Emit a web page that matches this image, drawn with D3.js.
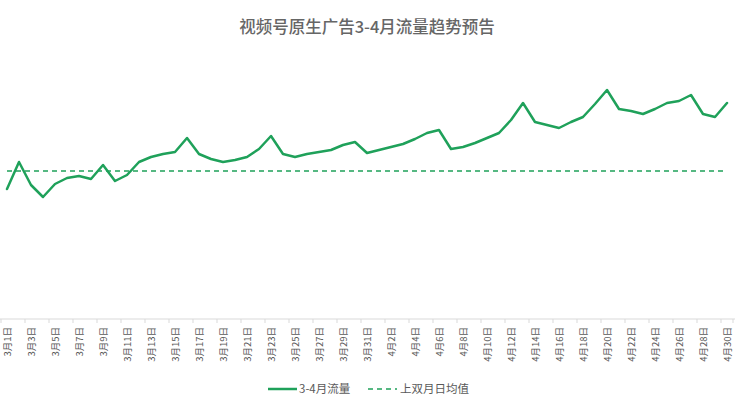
<!DOCTYPE html>
<html>
<head>
<meta charset="utf-8">
<script src="https://cdn.jsdelivr.net/npm/d3@7"></script>
<style>
html,body{margin:0;padding:0;background:#fff;}
svg{display:block;font-family:"Microsoft YaHei","Noto Sans CJK SC","Noto Sans",sans-serif;}
</style>
</head>
<body>
<svg id="chart" width="738" height="399"></svg>
<script>
const title = "视频号原生广告3-4月流量趋势预告";
const seriesName = "3-4月流量";
const avgName = "上双月日均值";
const months = [["3月", 31], ["4月", 30]];
const days = [];
months.forEach(([m, n]) => { for (let d = 1; d <= n; d++) days.push(m + d + "日"); });
const traffic = [130,157,134,122,135,141,143,140,154,138,144,157,162,165,167,181,165,160,157,159,
                 162,170,183,165,162,165,167,169,174,177,166,169,172,175,180,186,189,170,172,176,
                 181,186,199,216,197,194,191,197,202,215,229,210,208,205,210,216,218,224,205,202,216];
const avgValue = 148;
const tickLabels = days.filter((d, i) => i % 2 === 0);

const svg = d3.select("#chart");
const color = "#1fa15a";
const W = 738;

const x = d3.scaleBand().domain(days).range([1, 733]).padding(0);
const y = d3.scaleLinear().domain([0, 260]).range([319, 59]);
const cx = d => x(d) + x.bandwidth() / 2;

svg.append("text").attr("x", W / 2 - 2).attr("y", 33).attr("text-anchor", "middle")
  .attr("font-size", 16.5).attr("fill", "#666666").attr("font-weight", 500).text(title);

// x axis
const axisG = svg.append("g").attr("transform", "translate(0,319)");
axisG.append("line").attr("x1", 0).attr("x2", 735).attr("y1", 0).attr("y2", 0)
  .attr("stroke", "#d9d9d9").attr("stroke-width", 1);
days.forEach((d, i) => {
  if (i % 2 === 0) {
    axisG.append("line").attr("x1", x(d)).attr("x2", x(d)).attr("y1", 0).attr("y2", 4)
      .attr("stroke", "#d9d9d9").attr("stroke-width", 1);
  }
});
axisG.append("line").attr("x1", 733).attr("x2", 733).attr("y1", 0).attr("y2", 4)
  .attr("stroke", "#d9d9d9");
tickLabels.forEach(d => {
  axisG.append("text")
    .attr("transform", `translate(${cx(d) + 3.5},8) rotate(-90)`)
    .attr("text-anchor", "end").attr("font-size", 9.5).attr("fill", "#595959").text(d);
});

// average dashed line
svg.append("line").attr("x1", cx(days[0])).attr("x2", cx(days[days.length - 1]))
  .attr("y1", y(avgValue)).attr("y2", y(avgValue))
  .attr("stroke", color).attr("stroke-width", 1.5).attr("stroke-dasharray", "5,4");

// series line
const line = d3.line().x((v, i) => cx(days[i])).y(v => y(v));
svg.append("path").datum(traffic).attr("d", line).attr("fill", "none")
  .attr("stroke", color).attr("stroke-width", 2.5).attr("stroke-linejoin", "round").attr("stroke-linecap", "round");

// legend
const lg = svg.append("g").attr("transform", "translate(0,389)");
lg.append("line").attr("x1", 268).attr("x2", 297).attr("y1", 0).attr("y2", 0)
  .attr("stroke", color).attr("stroke-width", 2.5);
lg.append("text").attr("x", 299).attr("y", 4).attr("font-size", 11.5).attr("fill", "#595959").text(seriesName);
lg.append("line").attr("x1", 368).attr("x2", 397).attr("y1", 0).attr("y2", 0)
  .attr("stroke", color).attr("stroke-width", 1.5).attr("stroke-dasharray", "5,4");
lg.append("text").attr("x", 400).attr("y", 4).attr("font-size", 11.5).attr("fill", "#595959").text(avgName);
</script>
</body>
</html>
